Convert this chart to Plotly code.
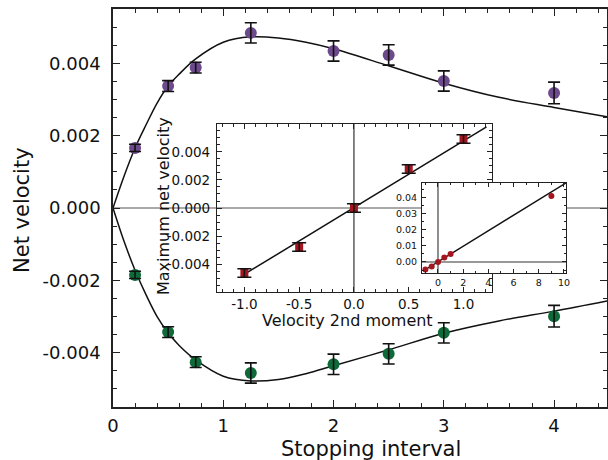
import plotly.graph_objects as go

# ---------------- data ----------------
# main panel: measured points
stop_x = [0.2, 0.5, 0.75, 1.25, 2.0, 2.5, 3.0, 4.0]
pos_y = [0.00166, 0.00337, 0.00388, 0.00484, 0.00434, 0.00423, 0.00351, 0.00318]
pos_err = [0.0001, 0.00015, 0.00015, 0.00028, 0.00028, 0.00028, 0.00028, 0.0003]
neg_y = [-0.00185, -0.00343, -0.00426, -0.00456, -0.00432, -0.00403, -0.00345, -0.00299]
neg_err = [0.0001, 0.00015, 0.00015, 0.00028, 0.00028, 0.00028, 0.00028, 0.0003]

# main panel: fitted curves
fit_x = [0, 0.1, 0.2, 0.3, 0.4, 0.5, 0.6, 0.75, 1.0, 1.25, 1.5, 1.75, 2.0, 2.5, 3.0, 3.5, 4.0, 4.48]
fit_pos = [0, 0.00088, 0.00166, 0.0023, 0.0029, 0.00337, 0.0037, 0.00412, 0.00458, 0.00473,
           0.0047, 0.00458, 0.0044, 0.00393, 0.00345, 0.00306, 0.00278, 0.00252]
fit_neg = [0, -0.00092, -0.00172, -0.0024, -0.003, -0.00345, -0.0038, -0.0042, -0.00465, -0.00478,
           -0.00474, -0.00458, -0.00436, -0.00392, -0.00346, -0.00312, -0.00285, -0.00257]

# inset 1
mom_x = [-1.0, -0.5, 0.0, 0.5, 1.0]
mom_y = [-0.00464, -0.00279, 0.0, 0.00279, 0.00493]
mom_err = [0.0003, 0.0003, 0.0003, 0.0003, 0.0003]
mom_fit_x = [-0.98, 1.21]
mom_fit_y = [-0.00464, 0.00579]

# inset 2
wide_x = [-1.0, -0.5, 0.0, 0.5, 1.0, 9.0]
wide_y = [-0.0046, -0.0028, 0.0, 0.0028, 0.0049, 0.0407]
wide_fit_x = [-1.15, 10.15]
wide_fit_y = [-0.0054, 0.0488]

# tick labels
main_xticks = [0, 1, 2, 3, 4]
main_xtext = ["0", "1", "2", "3", "4"]
main_yticks = [-0.004, -0.002, 0.0, 0.002, 0.004]
main_ytext = ["-0.004", "-0.002", "0.000", "0.002", "0.004"]
in1_xticks = [-1.0, -0.5, 0.0, 0.5, 1.0]
in1_xtext = ["-1.0", "-0.5", "0.0", "0.5", "1.0"]
in1_yticks = [-0.004, -0.002, 0.0, 0.002, 0.004]
in1_ytext = ["-0.004", "-0.002", "0.000", "0.002", "0.004"]
in2_xticks = [0, 2, 4, 6, 8, 10]
in2_xtext = ["0", "2", "4", "6", "8", "10"]
in2_yticks = [0.0, 0.01, 0.02, 0.03, 0.04]
in2_ytext = ["0.00", "0.01", "0.02", "0.03", "0.04"]

PURPLE = "#6c4a8c"
GREEN = "#0f6a3a"
RED = "#a3161f"
FONT = "DejaVu Sans, Liberation Sans, Arial, sans-serif"

MAIN_XR = [0, 4.48]
MAIN_YR = [-0.0055, 0.0055]
IN1_XR = [-1.25, 1.26]
IN1_YR = [-0.006, 0.006]
IN2_XR = [-1.27, 10.16]
IN2_YR = [-0.0068, 0.0488]

fig = go.Figure()

# ---------- main panel ----------
fig.add_trace(go.Scatter(x=MAIN_XR, y=[0, 0], mode="lines",
                         line=dict(color="#8c8c8c", width=1.5), hoverinfo="skip"))
fig.add_trace(go.Scatter(x=fit_x, y=fit_pos, mode="lines", line=dict(color="#111", width=1.5, shape="spline")))
fig.add_trace(go.Scatter(x=fit_x, y=fit_neg, mode="lines", line=dict(color="#111", width=1.5, shape="spline")))
fig.add_trace(go.Scatter(x=stop_x, y=pos_y, mode="markers", marker=dict(color=PURPLE, size=12)))
fig.add_trace(go.Scatter(x=stop_x, y=neg_y, mode="markers", marker=dict(color=GREEN, size=12)))
for yy, ee in ((pos_y, pos_err), (neg_y, neg_err)):
    fig.add_trace(go.Scatter(x=stop_x, y=yy, mode="markers", marker=dict(size=1, color="rgba(0,0,0,0)"),
                             error_y=dict(type="data", array=ee, color="#111", thickness=1.6, width=6)))

# ---------- inset 1 ----------
fig.add_trace(go.Scatter(x=[IN1_XR[0], IN1_XR[1], IN1_XR[1], IN1_XR[0], IN1_XR[0]],
                         y=[IN1_YR[0], IN1_YR[0], IN1_YR[1], IN1_YR[1], IN1_YR[0]],
                         mode="lines", fill="toself", fillcolor="white", line=dict(width=0, color="white"),
                         xaxis="x2", yaxis="y2", hoverinfo="skip"))
fig.add_trace(go.Scatter(x=IN1_XR, y=[0, 0], mode="lines", line=dict(color="#8c8c8c", width=1.5),
                         xaxis="x2", yaxis="y2"))
fig.add_trace(go.Scatter(x=[0, 0], y=IN1_YR, mode="lines", line=dict(color="#333", width=1.2),
                         xaxis="x2", yaxis="y2"))
fig.add_trace(go.Scatter(x=mom_fit_x, y=mom_fit_y, mode="lines", line=dict(color="#111", width=1.5),
                         xaxis="x2", yaxis="y2"))
fig.add_trace(go.Scatter(x=mom_x, y=mom_y, mode="markers", marker=dict(color=RED, size=8, symbol="square"),
                         xaxis="x2", yaxis="y2"))
fig.add_trace(go.Scatter(x=mom_x, y=mom_y, mode="markers", marker=dict(size=1, color="rgba(0,0,0,0)"),
                         error_y=dict(type="data", array=mom_err, color="#111", thickness=1.5, width=7),
                         xaxis="x2", yaxis="y2"))

# ---------- inset 2 ----------
fig.add_trace(go.Scatter(x=[IN2_XR[0], IN2_XR[1], IN2_XR[1], IN2_XR[0], IN2_XR[0]],
                         y=[IN2_YR[0], IN2_YR[0], IN2_YR[1], IN2_YR[1], IN2_YR[0]],
                         mode="lines", fill="toself", fillcolor="white", line=dict(width=0, color="white"),
                         xaxis="x3", yaxis="y3", hoverinfo="skip"))
fig.add_trace(go.Scatter(x=IN2_XR, y=[0, 0], mode="lines", line=dict(color="#333", width=1.1),
                         xaxis="x3", yaxis="y3"))
fig.add_trace(go.Scatter(x=[0, 0], y=IN2_YR, mode="lines", line=dict(color="#333", width=1.1),
                         xaxis="x3", yaxis="y3"))
fig.add_trace(go.Scatter(x=wide_fit_x, y=wide_fit_y, mode="lines", line=dict(color="#111", width=1.4),
                         xaxis="x3", yaxis="y3"))
fig.add_trace(go.Scatter(x=wide_x, y=wide_y, mode="markers", marker=dict(color=RED, size=6),
                         xaxis="x3", yaxis="y3"))

axis_common = dict(showgrid=False, zeroline=False, showline=True, linecolor="#222",
                   mirror="ticks", ticks="inside", tickcolor="#222", automargin=False)

fig.update_layout(
    width=608, height=460,
    margin=dict(l=113, r=1, t=9, b=53),
    paper_bgcolor="white", plot_bgcolor="white",
    showlegend=False,
    font=dict(family=FONT, color="#111"),
    xaxis=dict(**axis_common, range=MAIN_XR, domain=[0, 1], linewidth=1.5,
               tickvals=main_xticks, ticktext=main_xtext, ticklen=7, tickwidth=1.3,
               tickfont=dict(size=18), ticklabelstandoff=2,
               minor=dict(dtick=0.2, ticks="inside", ticklen=4, tickcolor="#222")),
    yaxis=dict(**axis_common, range=MAIN_YR, domain=[0, 1], linewidth=1.5,
               tickvals=main_yticks, ticktext=main_ytext, ticklen=7, tickwidth=1.3,
               tickfont=dict(size=18), ticklabelstandoff=7,
               minor=dict(dtick=0.0005, tick0=0, ticks="inside", ticklen=4, tickcolor="#222")),
    xaxis2=dict(**axis_common, range=IN1_XR, domain=[0.2105, 0.7672], anchor="y2", linewidth=1.2,
                tickvals=in1_xticks, ticktext=in1_xtext, ticklen=5, tickfont=dict(size=13.5),
                ticklabelstandoff=0,
                minor=dict(dtick=0.1, tick0=0, ticks="inside", ticklen=3, tickcolor="#222")),
    yaxis2=dict(**axis_common, range=IN1_YR, domain=[0.2889, 0.7111], anchor="x2", linewidth=1.2,
                tickvals=in1_yticks, ticktext=in1_ytext, ticklen=5, tickfont=dict(size=13.5),
                ticklabelstandoff=3,
                minor=dict(dtick=0.0005, tick0=0, ticks="inside", ticklen=3, tickcolor="#222")),
    xaxis3=dict(**axis_common, range=IN2_XR, domain=[0.6255, 0.9170], anchor="y3", linewidth=1.0,
                tickvals=in2_xticks, ticktext=in2_xtext, ticklen=4, tickfont=dict(size=9.5),
                ticklabelstandoff=1,
                minor=dict(dtick=1, tick0=0, ticks="inside", ticklen=2, tickcolor="#222")),
    yaxis3=dict(**axis_common, range=IN2_YR, domain=[0.3367, 0.5628], anchor="x3", linewidth=1.0,
                tickvals=in2_yticks, ticktext=in2_ytext, ticklen=4, tickfont=dict(size=9.5),
                ticklabelstandoff=2,
                minor=dict(dtick=0.005, tick0=0, ticks="inside", ticklen=2, tickcolor="#222")),
    annotations=[
        dict(text="Stopping interval", xref="paper", yref="paper", x=(371 - 113) / 494, y=-(449 - 407) / 398,
             xanchor="center", yanchor="middle", showarrow=False, font=dict(size=21)),
        dict(text="Net velocity", xref="paper", yref="paper", x=-(113 - 22) / 494, y=(407 - 210) / 398,
             xanchor="center", yanchor="middle", showarrow=False, textangle=-90, font=dict(size=21)),
        dict(text="Velocity 2nd moment", xref="paper", yref="paper", x=(347 - 113) / 494, y=(407 - 320) / 398,
             xanchor="center", yanchor="middle", showarrow=False, font=dict(size=16)),
        dict(text="Maximum net velocity", xref="paper", yref="paper", x=(163 - 113) / 494, y=(407 - 206) / 398,
             xanchor="center", yanchor="middle", showarrow=False, textangle=-90, font=dict(size=16)),
    ],
)

fig.write_html("out.html", config={"displayModeBar": False},
               post_script="document.body.style.margin='0';document.body.style.padding='0';")
